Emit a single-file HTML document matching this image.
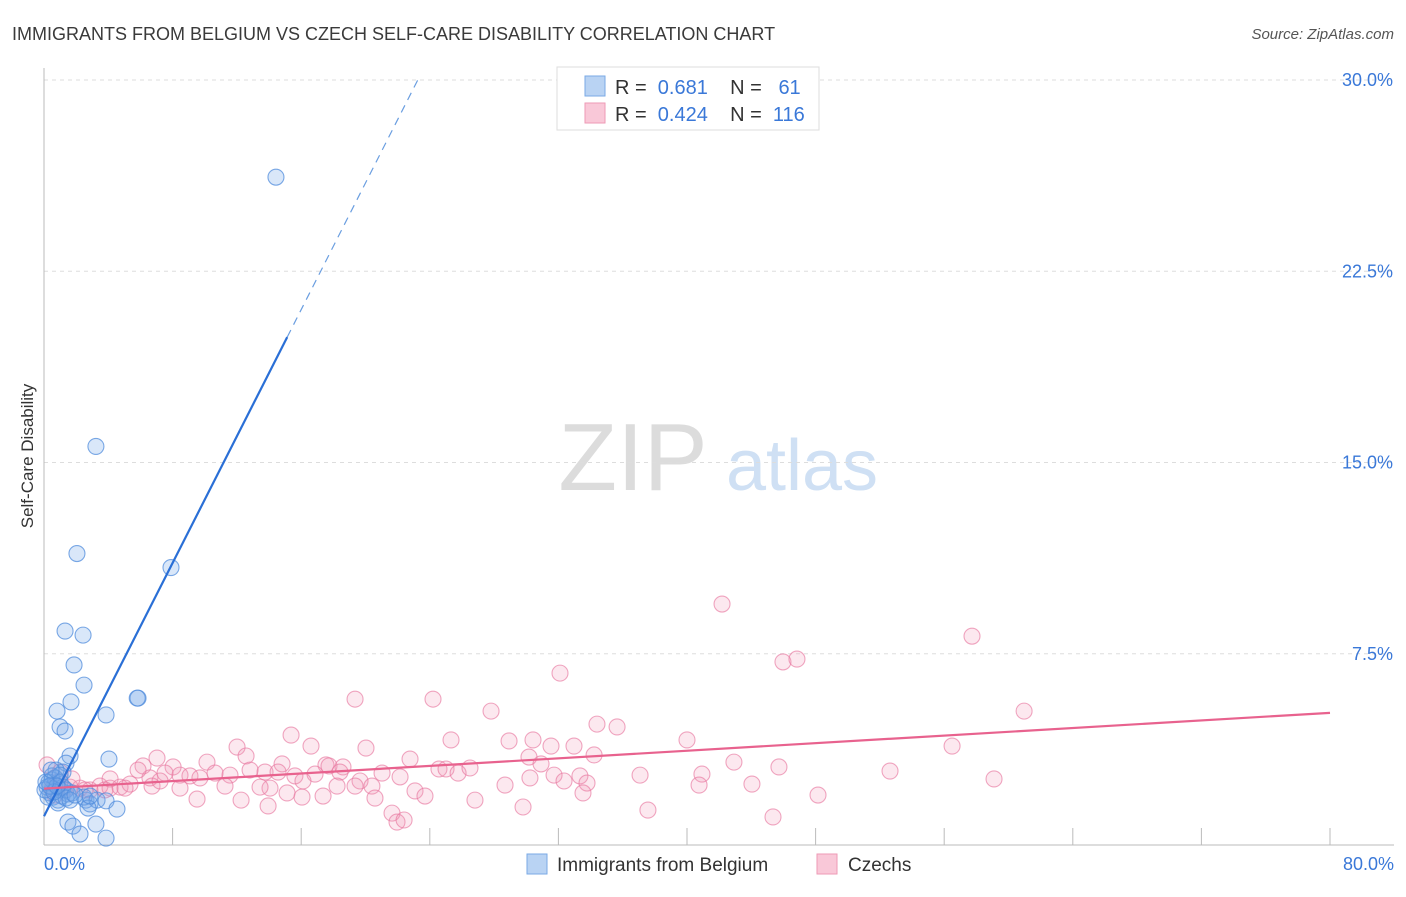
<!DOCTYPE html>
<html><head><meta charset="utf-8"><style>
body{margin:0;background:#fff;font-family:"Liberation Sans",sans-serif}
svg text{font-family:"Liberation Sans",sans-serif}
</style></head><body>
<svg id="c" width="1406" height="892" viewBox="0 0 1406 892" xmlns="http://www.w3.org/2000/svg">
<text x="12" y="40" font-size="18" fill="#3a3a3a">IMMIGRANTS FROM BELGIUM VS CZECH SELF-CARE DISABILITY CORRELATION CHART</text>
<text x="1394" y="39" font-size="15" fill="#555" font-style="italic" text-anchor="end">Source: ZipAtlas.com</text>
<text transform="translate(33,456) rotate(-90)" font-size="17" fill="#333" text-anchor="middle">Self-Care Disability</text>
<g><text x="633" y="490" font-size="96" fill="#dcdcdc" text-anchor="middle" font-family="Liberation Serif">ZIP</text><text x="802" y="490" font-size="72" fill="#cfe0f4" text-anchor="middle">atlas</text></g>
<g id="grid"></g><g id="pts"></g><g id="lines"></g>
<g>
<rect x="557" y="67" width="262" height="63" fill="#fff" stroke="#ddd"/>
<rect x="585" y="76" width="20" height="20" fill="#b9d3f3" stroke="#7aaae6"/>
<rect x="585" y="103" width="20" height="20" fill="#f9c8d8" stroke="#ee9ab6"/>
<text x="615" y="94" font-size="20" fill="#333" xml:space="preserve">R =  <tspan fill="#3a78d8">0.681</tspan>    N =   <tspan fill="#3a78d8">61</tspan></text>
<text x="615" y="121" font-size="20" fill="#333" xml:space="preserve">R =  <tspan fill="#3a78d8">0.424</tspan>    N =  <tspan fill="#3a78d8">116</tspan></text>
</g>
<g>
<rect x="527" y="854" width="20" height="20" fill="#b9d3f3" stroke="#7aaae6"/>
<text x="557" y="871" font-size="19" fill="#333">Immigrants from Belgium</text>
<rect x="817" y="854" width="20" height="20" fill="#f9c8d8" stroke="#ee9ab6"/>
<text x="848" y="871" font-size="19" fill="#333">Czechs</text>
</g>
</svg>
<script>
const yTicks=[7.5,15,22.5,30];
const yTickLabels=["7.5%","15.0%","22.5%","30.0%"];
const xTickLabels=["0.0%","80.0%"];
const blueX=[14.43,3.23,2.05,7.90,1.31,2.43,1.87,2.49,1.68,0.81,3.86,5.85,1.00,1.31,4.04,1.62,1.37,1.18,0.75,0.50,0.31,0.68,1.00,0.37,0.56,0.87,1.12,0.19,1.49,2.61,2.86,2.49,3.30,3.86,2.74,4.54,1.49,1.80,3.23,2.24,3.86,0.50,0.68,1.00,0.25,1.37,1.74,0.87,0.06,0.37,1.18,1.37,1.62,1.93,2.86,1.00,0.62,0.81,0.12,0.44,5.80];
const blueY=[26.19,15.63,11.43,10.88,8.39,8.23,7.06,6.27,5.61,5.25,5.10,5.76,4.63,4.47,3.37,3.49,3.21,2.86,2.94,2.71,2.47,2.35,2.16,2.04,1.88,1.76,1.92,2.27,2.00,1.76,1.61,1.88,1.76,1.73,1.45,1.41,0.90,0.74,0.82,0.43,0.27,2.55,2.63,2.47,1.88,2.16,2.04,1.65,2.16,2.31,2.27,1.84,1.76,1.96,1.92,2.74,2.08,2.31,2.47,2.94,5.76];
const pinkX=[42.18,57.73,32.10,45.97,46.84,19.35,24.20,60.97,27.81,34.40,35.65,15.37,12.01,16.61,20.03,22.77,25.32,28.93,30.42,31.54,32.97,34.22,40.00,56.49,7.03,6.16,8.03,10.14,12.57,14.81,17.54,17.73,18.60,21.03,24.57,25.01,25.76,30.17,30.92,31.73,33.34,33.78,37.08,40.93,42.92,45.72,52.63,59.10,0.19,1.00,1.62,2.24,2.86,3.48,4.11,4.73,5.35,6.59,7.53,8.46,9.08,9.70,10.64,11.57,12.82,13.75,14.56,15.61,16.86,18.41,19.66,20.40,22.15,23.08,23.70,26.81,29.80,33.53,37.57,40.75,44.04,48.15,45.35,21.65,21.96,22.40,9.52,12.26,13.94,15.12,16.05,17.36,20.59,19.35,18.23,16.11,14.06,11.26,8.46,6.72,5.04,3.79,2.55,1.24,0.68,0.87,1.74,4.11,5.85,7.22,28.68,30.23,32.35,26.50,13.44,0.5];
const pinkY=[9.45,8.19,6.74,7.18,7.29,5.72,5.72,5.25,5.25,4.74,4.63,4.31,3.84,3.88,3.80,3.37,4.12,4.08,4.12,3.88,3.88,3.53,4.12,3.88,3.41,3.10,3.06,3.25,3.49,3.18,3.14,3.10,3.06,2.82,2.98,2.98,2.82,3.45,3.18,2.74,2.71,2.43,2.74,2.78,3.25,3.06,2.90,2.59,3.14,2.86,2.27,2.23,2.16,2.31,2.23,2.27,2.39,2.63,2.82,2.74,2.71,2.63,2.82,2.74,2.94,2.86,2.86,2.71,2.78,2.86,2.51,2.31,2.67,2.12,1.92,1.76,1.49,2.04,1.37,2.35,2.39,1.96,1.10,1.25,0.90,0.98,1.80,1.76,1.53,2.04,1.88,1.92,1.84,2.31,2.31,2.51,2.23,2.31,2.23,2.31,2.23,2.16,2.16,2.16,1.96,2.47,2.59,2.59,2.94,2.51,2.35,2.63,2.51,3.02,2.27,2.2];
const NS="http://www.w3.org/2000/svg";
const X0=44,X1=1330,Y0=845,Y30=80;
const sx=v=>X0+(v/80)*(X1-X0);
const sy=v=>Y0-(v/30)*(Y0-Y30);
function mk(tag,attrs,parent){const e=document.createElementNS(NS,tag);for(const k in attrs)e.setAttribute(k,attrs[k]);parent.appendChild(e);return e;}
const grid=document.getElementById('grid');
yTicks.forEach((t,i)=>{
 const l=mk('line',{x1:X0,x2:1394,y1:sy(t),y2:sy(t),stroke:'#ddd','stroke-dasharray':'4,4'},grid);
 
 
 const tx=mk('text',{x:1393,y:sy(t)+6,'font-size':18,fill:'#3a78d8','text-anchor':'end'},grid);
 tx.textContent=yTickLabels[i];
 
 
});
const ax=mk('line',{x1:X0,x2:X0,y1:68,y2:Y0,stroke:'#bbb'},grid);


const bx=mk('line',{x1:X0,x2:1394,y1:Y0,y2:Y0,stroke:'#bbb'},grid);


for(let i=1;i<=10;i++){const t=mk('line',{x1:sx(i*8),x2:sx(i*8),y1:828,y2:Y0,stroke:'#bbb'},grid);
 
 }
[[0,'start',44],[80,'end',1394]].forEach((d,i)=>{const t=mk('text',{x:d[2],y:870,'font-size':18,fill:'#3a78d8','text-anchor':d[1]},grid);t.textContent=xTickLabels[i];
 
 });
const pts=document.getElementById('pts');
pinkX.forEach((x,i)=>{const c=mk('circle',{cx:sx(x),cy:sy(pinkY[i]),r:8,fill:'rgba(242,150,182,0.22)',stroke:'rgba(232,120,160,0.65)','stroke-width':1.1},pts);
 
 });
blueX.forEach((x,i)=>{const c=mk('circle',{cx:sx(x),cy:sy(blueY[i]),r:8,fill:'rgba(120,170,232,0.28)',stroke:'rgba(80,140,220,0.75)','stroke-width':1.1},pts);
 
 });
function reg(xs,ys){const n=xs.length;let mx=0,my=0;xs.forEach((x,i)=>{mx+=x;my+=ys[i]});mx/=n;my/=n;let sxy=0,sxx=0;xs.forEach((x,i)=>{sxy+=(x-mx)*(ys[i]-my);sxx+=(x-mx)**2});const b=sxy/sxx;return [my-b*mx,b];}
const lines=document.getElementById('lines');
const [ba,bb]=reg(blueX,blueY);
const bmax=Math.max(...blueX)+0.7;
const l1=mk('line',{x1:sx(0),y1:sy(ba),x2:sx(bmax),y2:sy(ba+bb*bmax),stroke:'#2a6fd6','stroke-width':2.2},lines);


const xe=(30-ba)/bb;
const l2=mk('line',{x1:sx(bmax),y1:sy(ba+bb*bmax),x2:sx(xe),y2:sy(30),stroke:'#6a9ee0','stroke-width':1.2,'stroke-dasharray':'8,6'},lines);


const [pa,pb]=reg(pinkX,pinkY);
const l3=mk('line',{x1:sx(0),y1:sy(pa),x2:sx(80),y2:sy(pa+pb*80),stroke:'#e8628e','stroke-width':2.2},lines);


</script>
</body></html>
